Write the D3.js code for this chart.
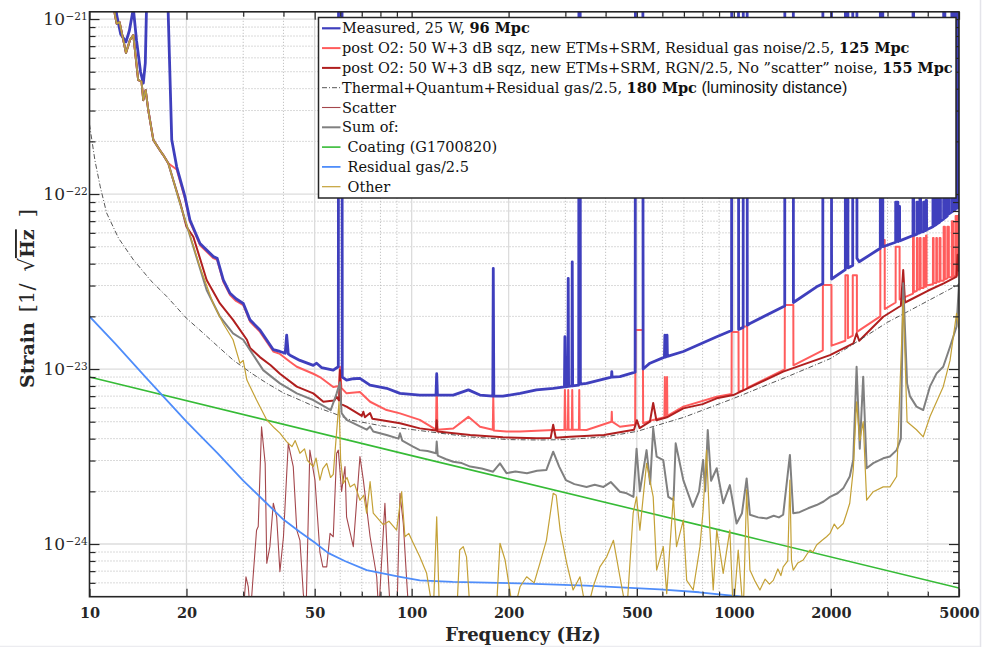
<!DOCTYPE html>
<html><head><meta charset="utf-8">
<script src="https://cdn.jsdelivr.net/npm/d3@7"></script>
<style>body{margin:0;background:#fff;}svg{display:block;}</style>
</head><body>
<svg id="chart" width="993" height="647"></svg>
<script>
// ---------------- data ----------------
const xTicksMajor = [10, 20, 50, 100, 200, 500, 1000, 2000, 5000];
const xTicksMinor = [30, 40, 60, 70, 80, 90, 300, 400, 600, 700, 800, 900, 3000, 4000];
const yDecades = [1e-24, 1e-23, 1e-22, 1e-21];
const yDecadeExponents = ["\u221224", "\u221223", "\u221222", "\u221221"];
const yMinorMultipliers = [2, 3, 4, 5, 6, 7, 8, 9];

const lowShared = [[11.8,1.3e-21],[12.0,1.05e-21],[12.15,9.4e-22],[12.4,9.6e-22],[12.98,6.4e-22],[13.36,7.6e-22],[13.68,8.1e-22],[14.16,4.48e-22],[14.5,4.4e-22],[14.69,3.44e-22],[14.94,3.93e-22],[15.22,3.02e-22],[15.78,2.04e-22],[16.54,1.78e-22],[16.94,1.67e-22],[17.56,1.5e-22]];

const measured = [[12.0,1.3e-21],[12.15,1.05e-21],[12.5,8.2e-22],[12.98,7.4e-22],[13.3,8.6e-22],[13.68,1.15e-21],[14.0,7.5e-22],[14.4,5.0e-22],[14.69,4.3e-22],[14.9,5.6e-22],[15.05,1.3e-21],[16.3,5e-21],[17.5,1.3e-21],[17.6,9e-22],[18.0,2.04e-22],[18.65,1.43e-22],[19.79,9.66e-23],[20.5,7.1e-23],[22.03,5.22e-23],[24.23,4.39e-23],[24.9,4.3e-23],[26.02,3.23e-23],[27.31,2.71e-23],[28.5,2.52e-23],[30.02,2.37e-23],[31.49,1.91e-23],[33.82,1.67e-23],[37.2,1.29e-23],[39.0,1.26e-23],[40.5,1.23e-23],[40.93,1.56e-23],[41.4,1.22e-23],[41.91,1.2e-23],[45.0,1.12e-23],[49.5,1.05e-23],[50.7,1.08e-23],[52.5,1.02e-23],[57.1,9.86e-24],[59.2,1.03e-23],[59.3,1.5e-21],[60.8,1.5e-21],[60.9,9.0e-24],[62.8,8.65e-24],[66,8.8e-24],[69.1,8.85e-24],[74.25,8.1e-24],[83.6,7.76e-24],[92,7.26e-24],[106,7.1e-24],[119,7.1e-24],[119.6,9.4e-24],[120.2,7.1e-24],[134.6,7.1e-24],[150,7.6e-24],[163,7.1e-24],[178.6,7.0e-24],[179.2,3.76e-23],[179.9,7.0e-24],[192,7.0e-24],[217,7.26e-24],[244,7.6e-24],[275,7.76e-24],[298,7.9e-24],[299,1.53e-23],[300.5,7.9e-24],[305.5,7.95e-24],[306.2,3.3e-23],[307,7.95e-24],[314.2,8.0e-24],[315.1,4.1e-23],[316,8.0e-24],[330,8.1e-24],[330.5,1.5e-21],[333.5,1.5e-21],[334,8.2e-24],[349,8.28e-24],[417,9.0e-24],[418,9.66e-24],[419,9.0e-24],[443,9.04e-24],[494,9.6e-24],[495,1.5e-21],[522,1.5e-21],[523,1.0e-23],[549,1.08e-23],[609,1.17e-23],[611,1.56e-23],[612.5,1.17e-23],[619,1.18e-23],[620.5,1.56e-23],[622,1.18e-23],[697,1.26e-23],[885,1.53e-23],[984,1.66e-23],[985,1.5e-21],[1034,1.5e-21],[1035,1.68e-23],[1069,1.73e-23],[1070,1.5e-21],[1100,1.5e-21],[1101,1.78e-23],[1122,1.82e-23],[1423,2.27e-23],[1439,2.29e-23],[1440,1.5e-21],[1530,1.5e-21],[1531,2.4e-23],[1807,2.95e-23],[1889,3.07e-23],[1890,1.5e-21],[2010,1.5e-21],[2011,3.27e-23],[2219,3.7e-23],[2220,1.5e-21],[2260,1.5e-21],[2261,3.78e-23],[2339,3.9e-23],[2340,1.5e-21],[2410,1.5e-21],[2411,4.3e-23],[2450,4.1e-23],[2849,4.9e-23],[2850,1.5e-21],[2900,1.5e-21],[2901,5.0e-23],[3179,5.3e-23],[3180,9e-23],[3230,9e-23],[3231,5.35e-23],[3250,5.4e-23],[3251,8.5e-23],[3270,8.5e-23],[3271,5.4e-23],[3599,5.8e-23],[3600,1.5e-21],[3615,1.5e-21],[3616,5.8e-23],[3700,5.9e-23],[3701,9e-23],[3720,9e-23],[3721,5.95e-23],[3780,6.0e-23],[3781,9.5e-23],[3800,9.5e-23],[3801,6.05e-23],[3880,6.1e-23],[3881,9e-23],[3900,9e-23],[3901,6.15e-23],[3950,6.2e-23],[3951,9.2e-23],[3965,9.2e-23],[3966,6.25e-23],[4150,6.5e-23],[4151,1.0e-22],[4170,1.0e-22],[4171,6.55e-23],[4250,6.7e-23],[4251,9.5e-23],[4270,9.5e-23],[4271,6.75e-23],[4350,6.9e-23],[4351,1.0e-22],[4380,1.0e-22],[4381,7.0e-23],[4480,7.2e-23],[4481,1.5e-21],[4520,1.5e-21],[4521,7.3e-23],[4600,7.5e-23],[4601,1.2e-22],[4650,1.2e-22],[4651,7.7e-23],[4750,7.9e-23],[4751,1.5e-21],[4800,1.5e-21],[4801,8.0e-23],[4880,8.2e-23],[4881,1.5e-21],[4950,1.5e-21],[4951,8.3e-23],[5000,8.4e-23]];

const postO2Gas = lowShared.concat([[18.65,1.38e-22],[19.79,9.4e-23],[20.5,6.95e-23],[22.03,5.1e-23],[24.23,4.3e-23],[24.9,4.2e-23],[26.02,3.15e-23],[27.31,2.65e-23],[28.5,2.45e-23],[30.02,2.32e-23],[31.49,1.87e-23],[33.82,1.63e-23],[37.2,1.26e-23],[39.0,1.22e-23],[41.9,1.10e-23],[44,1.03e-23],[49.5,9.4e-24],[51.9,9.0e-24],[57.1,7.9e-24],[59.5,8.0e-24],[59.9,1.03e-23],[60.5,7.8e-24],[62.8,7.26e-24],[69.1,7.4e-24],[74.3,6.5e-24],[83.6,5.83e-24],[92,5.58e-24],[106,5.12e-24],[119,4.5e-24],[119.6,9.0e-24],[120.2,4.5e-24],[134.6,4.57e-24],[150,5.33e-24],[163,4.68e-24],[178.6,4.5e-24],[179.2,7.0e-24],[179.9,4.45e-24],[197,4.39e-24],[217,4.39e-24],[275,4.48e-24],[298,4.5e-24],[299,7.6e-24],[300.5,4.5e-24],[305.5,4.5e-24],[306.2,7.6e-24],[307,4.5e-24],[314.2,4.5e-24],[315.1,7.6e-24],[316,4.5e-24],[330.5,4.5e-24],[331.3,7.6e-24],[332.2,4.5e-24],[349,4.48e-24],[417,5.0e-24],[418,5.7e-24],[419,5.0e-24],[443,4.68e-24],[494,4.8e-24],[495,1.67e-23],[522,1.67e-23],[523,4.9e-24],[562,5.12e-24],[609,5.3e-24],[611,9.0e-24],[612.5,5.3e-24],[619,5.4e-24],[620.5,9.0e-24],[622,5.4e-24],[697,6.1e-24],[885,6.95e-24],[984,7.2e-24],[985,1.63e-23],[1034,1.63e-23],[1035,7.4e-24],[1069,7.6e-24],[1070,1.75e-23],[1100,1.75e-23],[1101,7.8e-24],[1423,9.86e-24],[1439,1.0e-23],[1440,2.32e-23],[1530,2.32e-23],[1531,1.05e-23],[1889,1.28e-23],[1890,3.02e-23],[2010,3.02e-23],[2011,1.36e-23],[2219,1.45e-23],[2220,3.44e-23],[2260,3.44e-23],[2261,1.5e-23],[2339,1.55e-23],[2340,3.44e-23],[2410,3.44e-23],[2411,1.63e-23],[2849,2.0e-23],[2850,5.46e-23],[2940,5.46e-23],[2941,2.2e-23],[3179,2.4e-23],[3180,5.0e-23],[3270,5.0e-23],[3271,2.5e-23],[3599,2.7e-23],[3600,6.5e-23],[3620,6.5e-23],[3621,2.75e-23],[3700,2.8e-23],[3701,5.6e-23],[3720,5.6e-23],[3721,2.85e-23],[3780,2.85e-23],[3781,5.6e-23],[3800,5.6e-23],[3801,2.9e-23],[3880,2.9e-23],[3881,5.6e-23],[3900,5.6e-23],[3901,2.95e-23],[3950,2.95e-23],[3951,5.8e-23],[3965,5.8e-23],[3966,3.0e-23],[4150,3.05e-23],[4151,5.6e-23],[4170,5.6e-23],[4171,3.1e-23],[4250,3.1e-23],[4251,5.6e-23],[4270,5.6e-23],[4271,3.15e-23],[4350,3.15e-23],[4351,5.6e-23],[4380,5.6e-23],[4381,3.2e-23],[4480,3.2e-23],[4481,6.5e-23],[4520,6.5e-23],[4521,3.25e-23],[4600,3.3e-23],[4601,6.5e-23],[4650,6.5e-23],[4651,3.35e-23],[4750,3.35e-23],[4751,7.0e-23],[4800,7.0e-23],[4801,3.4e-23],[4880,3.4e-23],[4881,7.5e-23],[4950,7.5e-23],[4951,3.45e-23],[5000,7.7e-23]]);

const postO2NoScatter = lowShared.concat([[18.2,1.2e-22],[19.1,9.0e-23],[20.0,6.5e-23],[21.0,5.7e-23],[23.1,3.23e-23],[25.4,2.37e-23],[27.9,1.91e-23],[30.8,1.47e-23],[31.5,1.32e-23],[33.8,1.17e-23],[36.5,1.05e-23],[39.0,9.4e-24],[44.0,7.93e-24],[49.5,7.26e-24],[53.2,6.5e-24],[57.5,6.6e-24],[58.5,6.95e-24],[59.5,6.6e-24],[59.9,9.86e-24],[60.4,6.3e-24],[62.8,6.1e-24],[70.0,5.4e-24],[70.8,5.7e-24],[71.6,5.3e-24],[74.3,5.6e-24],[75.5,5.2e-24],[80,5.12e-24],[92,4.9e-24],[106,4.58e-24],[119,4.45e-24],[119.6,5.1e-24],[120.2,4.4e-24],[152,4.2e-24],[192,4.07e-24],[244,4.02e-24],[270,4.03e-24],[275,4.8e-24],[280,4.05e-24],[310,4.1e-24],[395,4.2e-24],[490,4.5e-24],[500,5.1e-24],[510,4.6e-24],[549,5.0e-24],[562,6.4e-24],[575,5.1e-24],[620,5.3e-24],[697,5.96e-24],[800,6.3e-24],[885,6.8e-24],[996,7.1e-24],[1423,9.66e-24],[1988,1.2e-23],[2350,1.4e-23],[2405,1.6e-23],[2450,1.45e-23],[2909,1.99e-23],[3300,2.3e-23],[3356,3.68e-23],[3400,2.4e-23],[3521,2.48e-23],[4000,2.8e-23],[4500,3.1e-23],[4914,3.37e-23],[4950,4.5e-23],[5000,3.6e-23]]);

const thermalQuantum = [[10.0,2.5e-22],[10.4,1.55e-22],[10.8,1.1e-22],[11.3,7.8e-23],[12.3,5.6e-23],[13.7,4.2e-23],[15.5,3.2e-23],[17.4,2.59e-23],[20,1.95e-23],[22,1.67e-23],[25,1.35e-23],[28,1.12e-23],[32,9.4e-24],[35.5,8.3e-24],[40,7.3e-24],[45,6.65e-24],[50,6.1e-24],[57,5.6e-24],[65,5.1e-24],[80,4.75e-24],[106,4.45e-24],[150,4.1e-24],[200,3.95e-24],[250,3.93e-24],[300,3.95e-24],[400,4.1e-24],[500,4.4e-24],[700,5.3e-24],[1000,6.8e-24],[1500,9.2e-24],[2000,1.15e-23],[3000,1.85e-23],[4000,2.45e-23],[5000,3.05e-23]];

const scatter = [[30.0,4e-25],[30.6,6.5e-25],[31.1,5.7e-25],[31.6,4e-25],[32.2,6.5e-25],[33.0,1.2e-24],[33.4,1.26e-24],[34.2,4.68e-24],[35.1,2.89e-24],[35.5,7.76e-25],[36.3,9.66e-25],[37.2,1.71e-24],[38.1,1.43e-24],[39.0,6.95e-25],[40.0,1.1e-24],[41.4,3.76e-24],[42.9,2.77e-24],[44.0,1.2e-24],[45.0,1.05e-24],[46.1,5.2e-25],[47.0,4e-25],[48.3,3.44e-24],[50.1,2.32e-24],[51.9,9e-25],[53.0,7.4e-25],[54.5,7.4e-25],[55.8,1.15e-24],[57.1,1.1e-24],[58.5,3.3e-24],[59.2,3.44e-24],[60.6,2.0e-24],[62.1,2.77e-24],[62.8,1.43e-24],[65.9,9.66e-25],[69.1,3.16e-24],[70.8,2.32e-24],[74.3,1.1e-24],[77.9,6.5e-25],[79.0,4e-25],[82.6,1.71e-24],[84.6,6.5e-25],[86,4e-25],[90,4e-25],[92.0,1.95e-24],[94.2,1.31e-24],[96.5,6.2e-25],[98,4e-25]];

const sumOf = lowShared.concat([[18.2,1.2e-22],[19.09,8.85e-23],[21.0,5.0e-23],[23.1,2.83e-23],[25.4,1.99e-23],[27.9,1.6e-23],[30.0,1.47e-23],[34.6,9.86e-24],[39.0,8.28e-24],[44.0,7.26e-24],[49.5,6.65e-24],[56.1,5.83e-24],[58.5,7.26e-24],[59.9,8.4e-24],[60.6,5.6e-24],[62.8,5.12e-24],[72.5,4.5e-24],[74.3,4.7e-24],[76,4.4e-24],[83.6,4.2e-24],[91,4.0e-24],[92,4.3e-24],[93.5,3.9e-24],[101,3.6e-24],[106,3.44e-24],[112,3.4e-24],[119,3.3e-24],[119.6,3.85e-24],[120.5,3.2e-24],[128,3.05e-24],[134.6,2.95e-24],[143,2.9e-24],[152,2.77e-24],[165,2.7e-24],[179,2.59e-24],[188,2.89e-24],[197,2.54e-24],[210,2.6e-24],[228,2.54e-24],[245,2.62e-24],[262,2.65e-24],[275,3.37e-24],[287,2.77e-24],[301,2.32e-24],[320,2.2e-24],[349,2.12e-24],[370,2.18e-24],[394,2.12e-24],[415,2.26e-24],[443,1.99e-24],[465,1.95e-24],[488,1.86e-24],[499,3.5e-24],[511,2.0e-24],[536,3.44e-24],[550,2.2e-24],[562,4.6e-24],[576,3.16e-24],[604,3.02e-24],[626,1.86e-24],[650,1.78e-24],[660,3.76e-24],[697,2.32e-24],[746,1.63e-24],[780,2.0e-24],[803,3.02e-24],[815,2.0e-24],[830,4.48e-24],[850,2.3e-24],[885,2.71e-24],[927,1.71e-24],[972,2.17e-24],[1020,1.31e-24],[1060,1.5e-24],[1096,2.37e-24],[1122,1.47e-24],[1190,1.42e-24],[1264,1.40e-24],[1330,1.45e-24],[1380,1.42e-24],[1423,1.47e-24],[1493,3.23e-24],[1529,1.5e-24],[1600,1.52e-24],[1700,1.6e-24],[1807,1.67e-24],[1900,1.75e-24],[1988,1.86e-24],[2100,1.95e-24],[2186,2.08e-24],[2290,2.43e-24],[2348,3.02e-24],[2405,1.03e-23],[2460,3.5e-24],[2521,9.04e-24],[2584,2.71e-24],[2709,2.9e-24],[2909,3.09e-24],[3052,3.16e-24],[3202,3.44e-24],[3300,4e-24],[3356,3.09e-23],[3450,8.28e-24],[3521,7e-24],[3690,6.1e-24],[3872,5.83e-24],[4061,7.93e-24],[4260,9.44e-24],[4467,1.03e-23],[4690,1.34e-23],[4914,1.75e-23],[5000,3.09e-23]]);

const coating = [[10,9.0e-24],[100,3.2e-24],[1000,1.15e-24],[5000,5.6e-25]];

const residualGas = [[10,2.0e-23],[12,1.4e-23],[15,8.9e-24],[20,5.0e-24],[25,3.3e-24],[30,2.3e-24],[35,1.75e-24],[40,1.38e-24],[45,1.17e-24],[50,1.02e-24],[55,8.9e-25],[62,8e-25],[72.5,7.1e-25],[92,6.5e-25],[106,6.2e-25],[134,6.07e-25],[216,5.96e-25],[348,5.78e-25],[589,5.5e-25],[781,5.3e-25],[1081,4.98e-25],[1200,4.85e-25]];

const other = lowShared.concat([[18.2,1.2e-22],[19.09,8.85e-23],[22.0,3.85e-23],[24.2,2.37e-23],[26.0,1.82e-23],[27.9,1.47e-23],[29.3,1.08e-23],[30.0,1.12e-23],[30.8,8.65e-24],[33.0,6.65e-24],[35.5,5.12e-24],[37.5,4.6e-24],[39,4.3e-24],[40.9,3.85e-24],[42.5,3.6e-24],[43.5,3.9e-24],[45,3.3e-24],[46.5,3.5e-24],[47.5,3.0e-24],[49.5,2.77e-24],[50.5,3.1e-24],[51.9,2.32e-24],[53,2.7e-24],[54.5,2.89e-24],[56,2.4e-24],[57.1,2.5e-24],[59.5,6.5e-24],[60.2,3.0e-24],[61.3,2.22e-24],[63,2.4e-24],[64.4,2.12e-24],[66.5,2.2e-24],[69.1,1.78e-24],[71,1.9e-24],[72.5,1.5e-24],[74.3,2.27e-24],[76.0,1.5e-24],[78.5,1.4e-24],[81.6,1.29e-24],[85,1.35e-24],[89.8,1.2e-24],[93.1,1.99e-24],[95.3,1.1e-24],[98,1.15e-24],[101.2,1.01e-24],[106,8.45e-25],[111.3,6.8e-25],[116.7,4e-25],[119.6,1.43e-24],[122,4e-25],[138,4e-25],[141,9.24e-25],[144.6,9.66e-25],[148,8.45e-25],[152,4e-25],[183,4e-25],[188,1.01e-24],[195,8.1e-25],[207,4e-25],[217,5.7e-25],[227.5,6.5e-25],[240,6.0e-25],[250,7.76e-25],[262,1.05e-24],[275,1.95e-24],[281,1.9e-24],[289,1.2e-24],[303,7.76e-25],[317,5.46e-25],[333,6.5e-25],[349,4e-25],[366,5.7e-25],[384,7.4e-25],[403,8.45e-25],[423,1.05e-24],[443,6.5e-25],[465,4e-25],[487,1.5e-24],[499,1.86e-24],[511,1.2e-24],[536,2.89e-24],[562,1.86e-24],[576,7.1e-25],[604,9.66e-25],[619,5.2e-25],[649,1.86e-24],[664,9.66e-25],[697,1.37e-24],[714,6.2e-25],[748,5.46e-25],[785,9.66e-25],[803,1.56e-24],[823,3.44e-24],[843,1.2e-24],[863,5.46e-25],[885,1.2e-24],[927,6.8e-25],[972,1.2e-24],[996,4e-25],[1032,9.24e-25],[1070,4e-25],[1096,2.04e-24],[1122,7.1e-25],[1160,6.2e-25],[1205,5.46e-25],[1250,6.3e-25],[1290,5.9e-25],[1326,6.2e-25],[1370,7.2e-25],[1400,6.6e-25],[1423,7.4e-25],[1470,8e-25],[1493,2.32e-24],[1510,8e-25],[1529,7.1e-25],[1580,7.8e-25],[1642,8.1e-25],[1690,8.8e-25],[1723,9.24e-25],[1760,9.0e-25],[1807,9.87e-25],[1880,1.05e-24],[1940,1.1e-24],[1988,1.15e-24],[2050,1.3e-24],[2100,1.22e-24],[2186,1.31e-24],[2240,1.5e-24],[2290,1.71e-24],[2348,2.65e-24],[2405,6.5e-24],[2460,3.9e-24],[2521,5e-24],[2584,1.78e-24],[2709,1.99e-24],[2909,2.12e-24],[3052,2.12e-24],[3202,2.43e-24],[3356,2.48e-23],[3450,5e-24],[3690,4.5e-24],[3872,4.1e-24],[4061,5.33e-24],[4467,7.93e-24],[4690,1.12e-23],[4914,2.08e-23],[5000,1.7e-23]]);

const legendItems = [
  {key: "measured", parts: [["Measured, 25 W, ", "r"], ["96 Mpc", "b"]]},
  {key: "gas", parts: [["post O2: 50 W+3 dB sqz, new ETMs+SRM, Residual gas noise/2.5, ", "r"], ["125 Mpc", "b"]]},
  {key: "noscatter", parts: [["post O2: 50 W+3 dB sqz, new ETMs+SRM, RGN/2.5, No \u201Dscatter\u201D noise, ", "r"], ["155 Mpc", "b"]]},
  {key: "thermal", parts: [["Thermal+Quantum+Residual gas/2.5, ", "r"], ["180 Mpc", "b"], [" (luminosity distance)", "s"]]},
  {key: "scatter", parts: [["Scatter", "r"]]},
  {key: "sum", parts: [["Sum of:", "r"]]},
  {key: "coating", parts: [["Coating (G1700820)", "r"]], indent: true},
  {key: "rg", parts: [["Residual gas/2.5", "r"]], indent: true},
  {key: "other", parts: [["Other", "r"]], indent: true}
];

// ---------------- styles ----------------
const styles = {
  measured:  {data: measured, color: "#3f3fbd", width: 2.8},
  gas:       {data: postO2Gas, color: "#ff5c5c", width: 2.0},
  noscatter: {data: postO2NoScatter, color: "#b01f1f", width: 2.0},
  thermal:   {data: thermalQuantum, color: "#444", width: 0.9, dash: "5,2,1,2"},
  scatter:   {data: scatter, color: "#a4474c", width: 1.1},
  sum:       {data: sumOf, color: "#808080", width: 2.0},
  coating:   {data: coating, color: "#36bb36", width: 1.6},
  rg:        {data: residualGas, color: "#4f8dfa", width: 1.8},
  other:     {data: other, color: "#c4a136", width: 1.2}
};

const SERIF = "'DejaVu Serif', serif";
const SANS = "'Liberation Sans', Arial, sans-serif";
const AXC = "#262626";

const svg = d3.select("#chart");
const P = {l: 89.5, r: 959, t: 11.8, b: 596.7};
const x = d3.scaleLog().domain([10, 5000]).range([P.l, P.r]);
const y = d3.scaleLog().domain([5e-25, 1.1e-21]).range([P.b, P.t]);

// page edges seen in the screenshot
svg.append("line").attr("x1", 980.5).attr("x2", 980.5).attr("y1", 0).attr("y2", 647).attr("stroke", "#e4e4ea").attr("stroke-width", 1.5);
svg.append("line").attr("x1", 0).attr("x2", 980).attr("y1", 646.5).attr("y2", 646.5).attr("stroke", "#ececf0").attr("stroke-width", 1.5);

// ---------------- grid ----------------
const yMinor = [];
[1e-25, 1e-24, 1e-23, 1e-22].forEach(d => yMinorMultipliers.forEach(m => {
  const v = m * d; if (v > 5e-25 * 1.0001 && v < 1.1e-21) yMinor.push(v);
}));
const grid = svg.append("g");
grid.selectAll(".gxm").data(xTicksMinor).join("line")
  .attr("x1", d => x(d)).attr("x2", d => x(d)).attr("y1", P.t).attr("y2", P.b)
  .attr("stroke", "#b4b4b4").attr("stroke-width", 1).attr("stroke-dasharray", "1,2");
grid.selectAll(".gym").data(yMinor).join("line")
  .attr("x1", P.l).attr("x2", P.r).attr("y1", d => y(d)).attr("y2", d => y(d))
  .attr("stroke", "#b4b4b4").attr("stroke-width", 1).attr("stroke-dasharray", "1,2");
grid.selectAll(".gxM").data(xTicksMajor.slice(1, -1)).join("line")
  .attr("x1", d => x(d)).attr("x2", d => x(d)).attr("y1", P.t).attr("y2", P.b)
  .attr("stroke", "#dcdcdc").attr("stroke-width", 1.3);
grid.selectAll(".gyM").data(yDecades).join("line")
  .attr("x1", P.l).attr("x2", P.r).attr("y1", d => y(d)).attr("y2", d => y(d))
  .attr("stroke", "#dcdcdc").attr("stroke-width", 1.3);

// ---------------- curves ----------------
svg.append("clipPath").attr("id", "clip").append("rect")
  .attr("x", P.l).attr("y", P.t).attr("width", P.r - P.l).attr("height", P.b - P.t);
const line = d3.line().x(d => x(d[0])).y(d => y(d[1]));
const curves = svg.append("g").attr("clip-path", "url(#clip)");
["gas", "measured", "noscatter", "thermal", "scatter", "sum", "coating", "rg", "other"].forEach(k => {
  const s = styles[k];
  curves.append("path").datum(s.data).attr("d", line)
    .attr("fill", "none").attr("stroke", s.color).attr("stroke-width", s.width)
    .attr("stroke-linejoin", "round")
    .attr("stroke-dasharray", s.dash || null);
});

// ---------------- axes ----------------
function styleAxis(g) {
  g.select(".domain").remove();
  g.selectAll(".tick line").attr("stroke", AXC).attr("stroke-width", 1.2);
}
const fmt = d3.format("d");
svg.append("g").attr("transform", `translate(0,${P.b})`)
  .call(d3.axisBottom(x).tickValues(xTicksMajor).tickFormat(fmt).tickSize(-8).tickSizeOuter(0).tickPadding(11))
  .call(styleAxis)
  .call(g => g.selectAll("text").attr("font-family", SERIF).attr("font-weight", "bold").attr("font-size", 14.5).attr("fill", AXC));
svg.append("g").attr("transform", `translate(0,${P.b})`)
  .call(d3.axisBottom(x).tickValues(xTicksMinor).tickFormat("").tickSize(-5).tickSizeOuter(0)).call(styleAxis);
svg.append("g").attr("transform", `translate(0,${P.t})`)
  .call(d3.axisTop(x).tickValues(xTicksMajor).tickFormat("").tickSize(-8).tickSizeOuter(0)).call(styleAxis);
svg.append("g").attr("transform", `translate(0,${P.t})`)
  .call(d3.axisTop(x).tickValues(xTicksMinor).tickFormat("").tickSize(-5).tickSizeOuter(0)).call(styleAxis);
svg.append("g").attr("transform", `translate(${P.l},0)`)
  .call(d3.axisLeft(y).tickValues(yDecades).tickFormat("").tickSize(-10).tickSizeOuter(0)).call(styleAxis);
svg.append("g").attr("transform", `translate(${P.l},0)`)
  .call(d3.axisLeft(y).tickValues(yMinor).tickFormat("").tickSize(-6).tickSizeOuter(0)).call(styleAxis);
svg.append("g").attr("transform", `translate(${P.r},0)`)
  .call(d3.axisRight(y).tickValues(yDecades).tickFormat("").tickSize(-10).tickSizeOuter(0)).call(styleAxis);
svg.append("g").attr("transform", `translate(${P.r},0)`)
  .call(d3.axisRight(y).tickValues(yMinor).tickFormat("").tickSize(-6).tickSizeOuter(0)).call(styleAxis);

// y tick labels 10^{-n}
const yl = svg.append("g");
yDecades.forEach((d, i) => {
  const yy = y(d);
  yl.append("text").attr("x", 65).attr("y", yy + 6).attr("text-anchor", "end")
    .attr("font-family", SERIF).attr("font-size", 17).attr("fill", AXC).text("10");
  yl.append("text").attr("x", 65.5).attr("y", yy + 1).attr("text-anchor", "start")
    .attr("font-family", SERIF).attr("font-size", 10.5).attr("fill", AXC).text(yDecadeExponents[i]);
});

// axis box
svg.append("rect").attr("x", P.l).attr("y", P.t).attr("width", P.r - P.l).attr("height", P.b - P.t)
  .attr("fill", "none").attr("stroke", AXC).attr("stroke-width", 1.6);

// axis titles
svg.append("text").attr("x", 523).attr("y", 641).attr("text-anchor", "middle")
  .attr("font-family", SERIF).attr("font-weight", "bold").attr("font-size", 18).attr("fill", AXC)
  .text("Frequency (Hz)");
const yt = svg.append("text").attr("transform", "translate(34,388) rotate(-90)")
  .attr("font-family", SERIF).attr("font-weight", "bold").attr("font-size", 19).attr("fill", AXC);
yt.append("tspan").text("Strain");
yt.append("tspan").attr("dx", 10).attr("font-weight", "normal").attr("font-size", 21).text("[1/");
yt.append("tspan").attr("dx", 12).attr("font-weight", "normal").attr("font-size", 21).text("\u221A");
yt.append("tspan").style("text-decoration", "overline").text("Hz");
yt.append("tspan").attr("dx", 12).attr("font-weight", "normal").attr("font-size", 21).text("]");

// ---------------- legend ----------------
const L = {x: 318.5, y: 17.5, w: 637.5, h: 180.5};
const lg = svg.append("g");
lg.append("rect").attr("x", L.x).attr("y", L.y).attr("width", L.w).attr("height", L.h)
  .attr("fill", "#fff").attr("stroke", AXC).attr("stroke-width", 1.5);
legendItems.forEach((it, i) => {
  const cy = 28.3 + i * 19.8;
  const s = styles[it.key];
  lg.append("line").attr("x1", 322).attr("x2", 340.5).attr("y1", cy).attr("y2", cy)
    .attr("stroke", s.color).attr("stroke-width", Math.min(s.width, 2.2)).attr("stroke-dasharray", s.dash || null);
  const t = lg.append("text").attr("x", it.indent ? 347.5 : 342).attr("y", cy + 5)
    .attr("font-family", SERIF).attr("font-size", 14.5).attr("fill", "#111").attr("xml:space", "preserve");
  it.parts.forEach(p => {
    const ts = t.append("tspan").text(p[0]);
    if (p[1] === "b") ts.attr("font-weight", "bold");
    if (p[1] === "s") ts.attr("font-family", SANS).attr("font-size", 16);
  });
});
</script>
</body></html>
